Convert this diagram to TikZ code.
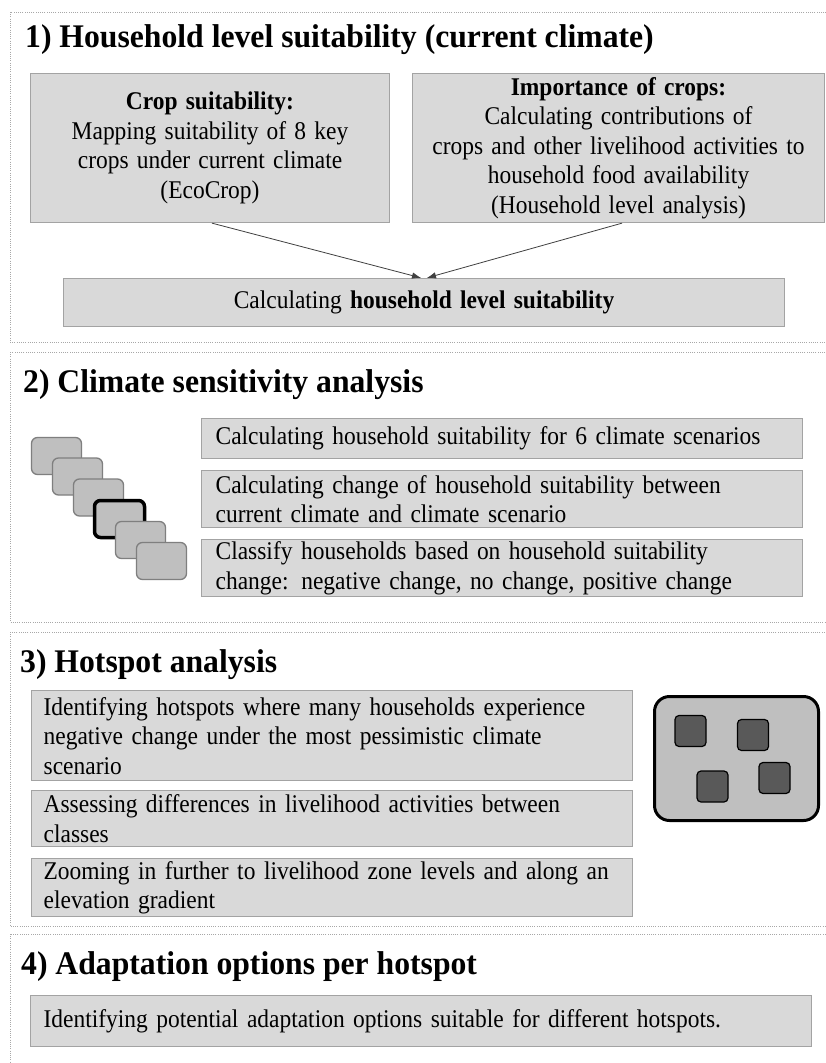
\documentclass[tikz,border=0pt]{standalone}
\usepackage{fontspec}
\setmainfont{Liberation Serif}[FakeStretch=0.92, WordSpace=1.4]
\newfontfamily\titlefam{Liberation Serif}[FakeStretch=0.96]
\usetikzlibrary{arrows.meta}
\newcommand\mybody{\fontsize{25.5}{29.5}\selectfont}
\newcommand\mytitle{\titlefam\fontsize{33}{38}\selectfont\bfseries}
\definecolor{boxfill}{HTML}{D9D9D9}
\definecolor{boxline}{HTML}{A3A3A3}
\definecolor{stackfill}{HTML}{BFBFBF}
\definecolor{stackline}{HTML}{7F7F7F}
\definecolor{spotfill}{HTML}{595959}
\definecolor{frameline}{HTML}{A8A8A8}
\tikzset{
  sect/.style={draw=frameline, line width=0.9pt, dash pattern=on 1pt off 1.2pt},
  ttl/.style={anchor=base west, inner sep=0pt, font=\mytitle},
  cbox/.style={draw=boxline, fill=boxfill, line width=1.3pt, inner sep=0pt, align=center, font=\mybody},
  lbox/.style={draw=boxline, fill=boxfill, line width=1.3pt, inner ysep=0pt, align=left, font=\mybody, anchor=north west},
  stk/.style={draw=stackline, fill=stackfill, line width=1.3pt, rounded corners=6pt, minimum width=50pt, minimum height=37pt, inner sep=0pt},
  spot/.style={draw=black, fill=spotfill, line width=1.2pt, rounded corners=4pt, minimum size=31pt, inner sep=0pt},
  arr/.style={draw=black!75, line width=0.8pt, -{Latex[length=9pt,width=6.5pt]}}
}
\begin{document}
\begin{tikzpicture}[x=1pt,y=-1pt]
\clip (0,0) rectangle (826,1063);
\fill[white] (0,0) rectangle (826,1063);

% section frames
\draw[sect] (10,12) rectangle (845,342);
\draw[sect] (10,352) rectangle (845,622);
\draw[sect] (10,632) rectangle (845,926);
\draw[sect] (10,934) rectangle (845,1080);

% ---------- section 1
\node[ttl] (t1) at (25,47.5) {1) Household level suitability (current climate)};
\node[cbox, minimum width=359pt, minimum height=149pt] (crop) at (210,148)
  {\textbf{Crop suitability:}\\Mapping suitability of 8 key\\crops under current climate\\(EcoCrop)};
\node[cbox, minimum width=412pt, minimum height=149pt] (imp) at (618.5,148)
  {\textbf{Importance of crops:}\\Calculating contributions of\\crops and other livelihood activities to\\household food availability\\(Household level analysis)};
\node[cbox, minimum width=721pt, minimum height=48pt] (hh) at (424,302.5)
  {Calculating \textbf{household level suitability}};
\draw[arr] ([xshift=2pt]crop.south) -- ([xshift=-3pt]hh.north);
\draw[arr] ([xshift=3.5pt]imp.south) -- ([xshift=3pt]hh.north);

% ---------- section 2
\node[ttl] (t2) at (23,392.5) {2) Climate sensitivity analysis};
\node[stk] (s1) at (56.5,456) {};
\node[stk] (s2) at (77.5,476.5) {};
\node[stk] (s3) at (98.5,497.5) {};
\node[stk, draw=black, line width=3.5pt] (s4) at (119.5,519) {};
\node[stk] (s5) at (140.5,540) {};
\node[stk] (s6) at (161.5,561) {};
\node[lbox, inner xsep=14pt, text width=573pt, minimum height=40pt] (c1) at (201,418)
  {Calculating household suitability for 6 climate scenarios};
\node[lbox, inner xsep=14pt, text width=573pt, minimum height=57pt] (c2) at (201,470)
  {Calculating change of household suitability between\\current climate and climate scenario};
\node[lbox, inner xsep=14pt, text width=573pt, minimum height=57pt] (c3) at (201,539)
  {Classify households based on household suitability\\change: negative change, no change, positive change};

% ---------- section 3
\node[ttl] (t3) at (20,672) {3) Hotspot analysis};
\node[lbox, inner xsep=12pt, text width=577pt, minimum height=90pt] (h1) at (31,690)
  {Identifying hotspots where many households experience\\negative change under the most pessimistic climate\\scenario};
\node[lbox, inner xsep=12pt, text width=577pt, minimum height=56pt] (h2) at (31,790)
  {Assessing differences in livelihood activities between\\classes};
\node[lbox, inner xsep=12pt, text width=577pt, minimum height=58pt] (h3) at (31,858)
  {Zooming in further to livelihood zone levels and along an\\elevation gradient};
\node[draw=black, fill=stackfill, line width=3pt, rounded corners=15pt, minimum width=164pt, minimum height=124pt] (map) at (736.5,758.5) {};
\node[spot] (p1) at (690.5,731) {};
\node[spot] (p2) at (753,735) {};
\node[spot] (p3) at (712.5,786.5) {};
\node[spot] (p4) at (774.5,778) {};

% ---------- section 4
\node[ttl] (t4) at (21,974.5) {4) Adaptation options per hotspot};
\node[lbox, inner xsep=13pt, text width=755pt, minimum height=51pt] (ad) at (30,995)
  {Identifying potential adaptation options suitable for different hotspots.};
\end{tikzpicture}
\end{document}
